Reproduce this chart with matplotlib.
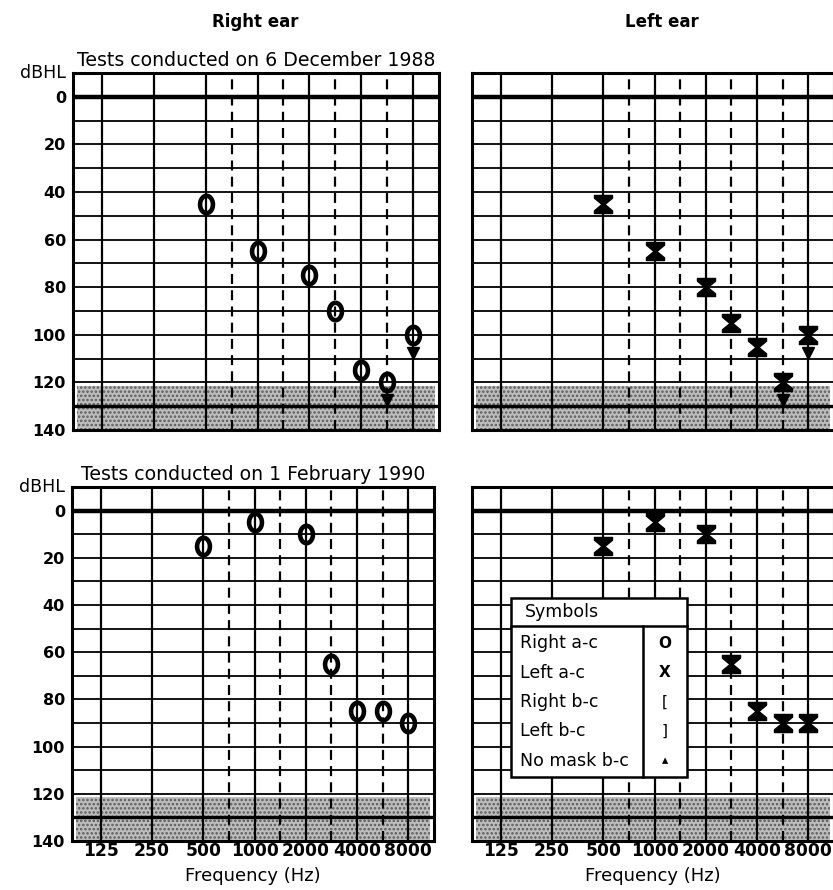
import matplotlib
matplotlib.use('Agg')
import matplotlib.pyplot as plt
from matplotlib.path import Path
from matplotlib.patches import Rectangle
import matplotlib.transforms as mtransforms
import numpy as np

plt.rcParams['font.family'] = 'DejaVu Sans'
plt.rcParams['hatch.linewidth'] = 1.2

# audiogram grid
grid_freqs = [125, 250, 500, 750, 1000, 1500, 2000, 3000, 4000, 6000, 8000]
half_octave = [False, False, False, True, False, True, False, True, False, True, False]
freq_labels = ['125', '250', '500', '1000', '2000', '4000', '8000']
db_ticks = [0, 20, 40, 60, 80, 100, 120, 140]

# thresholds (dB HL)
test_freqs = [500, 1000, 2000, 3000, 4000, 6000, 8000]
right_1988 = [45, 65, 75, 90, 115, 120, 100]
left_1988 = [45, 65, 80, 95, 105, 120, 100]
no_resp_1988 = [False, False, False, False, False, True, True]
right_1990 = [15, 5, 10, 65, 85, 85, 90]
left_1990 = [15, 5, 10, 65, 85, 90, 90]
no_resp_1990 = [False, False, False, False, False, False, False]

legend_rows = ['Right a-c', 'Left a-c', 'Right b-c', 'Left b-c', 'No mask b-c']
legend_syms = ['O', 'X', '[', ']', '\u25b4']


def pos(f):
    # octave steps, half-octave frequencies sit midway
    return np.round(np.log2(np.asarray(f) / 125.0) * 2) / 2


# marker shapes
t = np.linspace(0, 2 * np.pi, 80)
ring = Path(np.column_stack([0.74 * np.sin(t), np.cos(t)]))
hourglass = Path([(-1, 1), (1, 1), (1, 0.7), (0.16, 0), (1, -0.7), (1, -1),
                  (-1, -1), (-1, -0.7), (-0.16, 0), (-1, 0.7), (-1, 1)],
                 closed=True)


def draw_grid(ax, bottom_labels, left_labels):
    ax.set_xlim(-0.56, 6.5)
    ax.set_ylim(140, -10)
    for f, half in zip(grid_freqs, half_octave):
        ls = (0, (4.5, 2.8)) if half else '-'
        ax.axvline(pos(f), color='k', lw=1.6, ls=ls, zorder=2)
    for db in range(10, 140, 10):
        ax.axhline(db, color='k', lw=1.3, zorder=2)
    ax.axhline(0, color='k', lw=3.2, zorder=2)
    ax.axhline(130, color='k', lw=2.4, zorder=2)
    trans = mtransforms.blended_transform_factory(ax.transAxes, ax.transData)
    ax.add_patch(Rectangle((0.012, 121.5), 0.976, 18, transform=trans,
                           facecolor='#bdbdbd', edgecolor='#5a5a5a', hatch='....',
                           lw=0, zorder=1))
    for sp in ax.spines.values():
        sp.set_linewidth(2.2)
    ax.tick_params(length=0)
    ax.set_xticks(pos([int(s) for s in freq_labels]))
    ax.set_yticks(db_ticks)
    if bottom_labels:
        ax.set_xticklabels(freq_labels, fontsize=12.3, fontweight='bold')
        ax.tick_params(axis='x', pad=1)
        ax.set_xlabel('Frequency (Hz)', fontsize=13, labelpad=5)
    else:
        ax.set_xticklabels([])
    if left_labels:
        ax.set_yticklabels([str(v) for v in db_ticks], fontsize=11.5, fontweight='bold')
        ax.tick_params(axis='y', pad=5)
        ax.text(-0.02, 1.0, 'dBHL', transform=ax.transAxes, ha='right', va='center',
                fontsize=12.5)
    else:
        ax.set_yticklabels([])


def draw_thresholds(ax, values, no_resp, marker, ms, filled):
    x = pos(test_freqs)
    y = np.array(values, dtype=float)
    if filled:
        ax.plot(x, y, ls='none', marker=marker, ms=ms, color='k', zorder=4)
    else:
        ax.plot(x, y, ls='none', marker=marker, ms=ms, mfc='none', mec='k',
                mew=3.3, zorder=4)
    nr = np.array(no_resp)
    ax.plot(x[nr], y[nr] + 7.5, ls='none', marker='v', ms=8, color='k', zorder=4)


fig = plt.figure(figsize=(8.33, 8.9), dpi=100)
ax_tl = fig.add_axes([0.0876, 0.5169, 0.4394, 0.4011])
ax_tr = fig.add_axes([0.5666, 0.5169, 0.4346, 0.4011])
ax_bl = fig.add_axes([0.0864, 0.0551, 0.4346, 0.3978])
ax_br = fig.add_axes([0.5666, 0.0551, 0.4346, 0.3978])

draw_grid(ax_tl, False, True)
draw_grid(ax_tr, False, False)
draw_grid(ax_bl, True, True)
draw_grid(ax_br, True, False)

draw_thresholds(ax_tl, right_1988, no_resp_1988, ring, 12.5, False)
draw_thresholds(ax_tr, left_1988, no_resp_1988, hourglass, 13, True)
draw_thresholds(ax_bl, right_1990, no_resp_1990, ring, 12.5, False)
draw_thresholds(ax_br, left_1990, no_resp_1990, hourglass, 13, True)

ax_tl.set_title('Tests conducted on 6 December 1988', fontsize=13.6, pad=5)
ax_bl.set_title('Tests conducted on 1 February 1990', fontsize=13.6, pad=5)

fig.text(0.307, 0.975, 'Right ear', ha='center', va='center', fontsize=12,
         fontweight='bold')
fig.text(0.795, 0.975, 'Left ear', ha='center', va='center', fontsize=12,
         fontweight='bold')

# symbols box
bx0, bx1, by0, by1 = 0.108, 0.594, 0.180, 0.687
head_y, div_x = 0.608, 0.472
ax_br.add_patch(Rectangle((bx0, by0), bx1 - bx0, by1 - by0, transform=ax_br.transAxes,
                          facecolor='white', edgecolor='k', lw=1.8, zorder=6))
ax_br.plot([bx0, bx1], [head_y, head_y], color='k', lw=1.8, transform=ax_br.transAxes,
           zorder=7)
ax_br.plot([div_x, div_x], [by0, head_y], color='k', lw=1.8, transform=ax_br.transAxes,
           zorder=7)
ax_br.text(0.146, 0.648, 'Symbols', transform=ax_br.transAxes, fontsize=12.5,
           va='center', ha='left', zorder=8)
row_y = np.linspace(0.559, 0.226, len(legend_rows))
for ry, lab, sym in zip(row_y, legend_rows, legend_syms):
    ax_br.text(0.132, ry, lab, transform=ax_br.transAxes, fontsize=12.5,
               va='center', ha='left', zorder=8)
    ax_br.text(0.533, ry, sym, transform=ax_br.transAxes,
               fontsize=11 if sym != '\u25b4' else 9, fontweight='bold' if sym in 'OX' else 'normal',
               va='center', ha='center', zorder=8)

fig.savefig('out.png', dpi=100)
